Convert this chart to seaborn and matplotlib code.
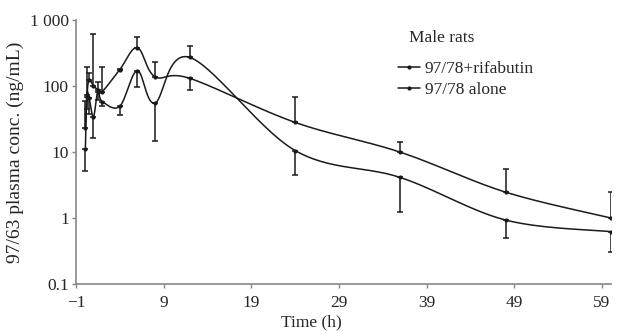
import numpy as np
import pandas as pd
import matplotlib
matplotlib.use("Agg")
import matplotlib.pyplot as plt
from matplotlib.lines import Line2D
from matplotlib.ticker import FixedLocator, FixedFormatter, NullLocator
import seaborn as sns

# data (ng/mL)
times = [0.083, 0.25, 0.5, 1, 1.5, 2, 4, 6, 8, 12, 24, 36, 48, 60]
rifabutin = [23, 69, 124, 100, 88, 82, 176, 380, 138, 130, 28, 9.9, 2.46, 1.0]
rifabutin_top = [60, 190, 158, 615, 115, 195, 183, 550, 230, np.nan, 69, 14, 5.5, 2.46]
rifabutin_bot = [np.nan] * 9 + [88] + [np.nan] * 4
alone = [11, 72, 66, 34, 82, 58, 49, 170, 55, 270, 10.5, 4.1, 0.93, 0.62]
alone_bot = [5.2, 45, 38, 16, 62, 50, 36, 97, 14.4, np.nan, 4.4, 1.23, 0.5, 0.31]
alone_top = [np.nan] * 9 + [400] + [np.nan] * 4

series_names = ["97/78+rifabutin", "97/78 alone"]
xticks = [-1, 9, 19, 29, 39, 49, 59]
yticks = [0.1, 1, 10, 100, 1000]
ytick_labels = ["0.1", "1", "10", "100", "1 000"]


def smooth(x, y, n=30):
    # Excel-style smoothed line: uniform Catmull-Rom in (x, log y)
    p = np.column_stack([x, np.log10(y)])
    p = np.vstack([p[0], p, p[-1]])
    out = []
    for i in range(1, len(p) - 2):
        p0, p1, p2, p3 = p[i - 1], p[i], p[i + 1], p[i + 2]
        t = np.linspace(0, 1, n)[:, None]
        c = 0.5 * ((2 * p1) + (-p0 + p2) * t + (2 * p0 - 5 * p1 + 4 * p2 - p3) * t ** 2
                   + (-p0 + 3 * p1 - 3 * p2 + p3) * t ** 3)
        out.append(c)
    c = np.vstack(out)
    return c[:, 0], 10 ** c[:, 1]


sns.set_style("ticks")
plt.rcParams['font.family'] = ['Liberation Serif', 'DejaVu Serif']

fig = plt.figure(figsize=(6.17, 3.31), dpi=100)
ax = fig.add_axes([0.123, 0.142, 0.867, 0.798])

col = "#1a1a1a"
curves = []
for name, vals in zip(series_names, [rifabutin, alone]):
    sx, sy = smooth(times, vals)
    curves.append(pd.DataFrame({"t": sx, "c": sy, "s": name}))
df = pd.concat(curves)
sns.lineplot(data=df, x="t", y="c", units="s", estimator=None, color=col,
             linewidth=1.1, sort=False, ax=ax, legend=False)

for vals, top, bot in [(rifabutin, rifabutin_top, rifabutin_bot), (alone, alone_top, alone_bot)]:
    v = np.array(vals, dtype=float)
    up = np.nan_to_num(np.array(top, dtype=float) - v, nan=0.0)
    lo = np.nan_to_num(v - np.array(bot, dtype=float), nan=0.0)
    ax.errorbar(times, v, yerr=[lo, up], fmt="o", ms=2, color=col, ecolor=col,
                elinewidth=1.1, capsize=2, capthick=1.1)

ax.set_yscale("log")
ax.set_ylim(0.1, 1000)
ax.set_xlim(-1, 60)
ax.xaxis.set_major_locator(FixedLocator(xticks))
ax.yaxis.set_major_locator(FixedLocator(yticks))
ax.yaxis.set_major_formatter(FixedFormatter(ytick_labels))
ax.yaxis.set_minor_locator(NullLocator())
ax.tick_params(labelsize=12.5, length=3, width=1, color="#888888", pad=2)
ax.tick_params(axis="x", pad=5)
for s in ["left", "bottom"]:
    ax.spines[s].set_color("#888888")
    ax.spines[s].set_linewidth(1.2)
sns.despine(ax=ax)

ax.set_xlabel("Time (h)", fontsize=12.5)
ax.xaxis.set_label_coords(0.441, -0.115)
ax.set_ylabel("97/63 plasma conc. (ng/mL)", fontsize=14, labelpad=4)

handles = [Line2D([0], [0], color=col, lw=1.1, marker="o", ms=2) for _ in series_names]
ax.legend(handles, series_names, loc="upper left", bbox_to_anchor=(0.602, 0.843),
          frameon=False, fontsize=12.5, handlelength=1.3, handletextpad=0.25,
          labelspacing=0.27, borderpad=0, borderaxespad=0)
ax.text(0.622, 0.933, "Male rats", transform=ax.transAxes, fontsize=12.5,
        ha="left", va="center")

fig.savefig("out.png", dpi=100)
